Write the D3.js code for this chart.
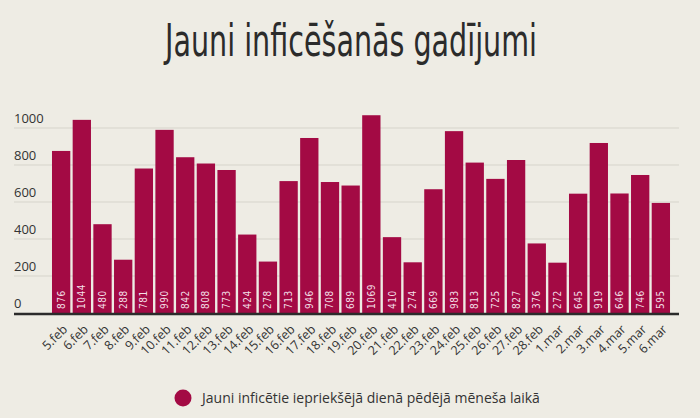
<!DOCTYPE html>
<html lang="lv">
<head>
  <meta charset="utf-8">
  <title>Jauni inficēšanās gadījumi</title>
  <script src="https://d3js.org/d3.v7.min.js"></script>
  <style>
    html, body { margin: 0; padding: 0; background: #eeece4; }
    svg { display: block; }
  </style>
</head>
<body>

<svg width="700" height="418"></svg>

<script>
  const days = ["5.feb", "6.feb", "7.feb", "8.feb", "9.feb", "10.feb", "11.feb", "12.feb", "13.feb", "14.feb",
    "15.feb", "16.feb", "17.feb", "18.feb", "19.feb", "20.feb", "21.feb", "22.feb", "23.feb", "24.feb",
    "25.feb", "26.feb", "27.feb", "28.feb", "1.mar", "2.mar", "3.mar", "4.mar", "5.mar", "6.mar"];
  const cases = [876, 1044, 480, 288, 781, 990, 842, 808, 773, 424,
    278, 713, 946, 708, 689, 1069, 410, 274, 669, 983,
    813, 725, 827, 376, 272, 645, 919, 646, 746, 595];
  const yTicks = [0, 200, 400, 600, 800, 1000];

  const title = "Jauni inficēšanās gadījumi";
  const legendLabel = "Jauni inficētie iepriekšējā dienā pēdējā mēneša laikā";

  const barColor = "#a30a44";
  const textColor = "#333333";

  const svg = d3.select("svg");

  // Scales
  const x = d3.scaleBand()
    .domain(days)
    .range([50.8, 671.2])
    .paddingInner(0.115)
    .paddingOuter(0.0575);

  const y = d3.scaleLinear()
    .domain([0, 1000])
    .range([313, 128]);

  const left = 14, right = 679;

  // Title (condensed, squeezed to the reference width)
  svg.append("text")
    .attr("x", 165)
    .attr("y", 56)
    .attr("textLength", 372)
    .attr("lengthAdjust", "spacingAndGlyphs")
    .attr("font-family", "DejaVu Sans Condensed, sans-serif")
    .attr("font-size", 44)
    .attr("fill", "#2b2b2b")
    .text(title);

  // Grid + y labels
  const grid = svg.append("g");
  grid.selectAll("line")
    .data(yTicks.filter(d => d > 0))
    .join("line")
    .attr("x1", left).attr("x2", right)
    .attr("y1", d => y(d)).attr("y2", d => y(d))
    .attr("stroke", "#d6d4cb")
    .attr("stroke-width", 1);

  grid.selectAll("text")
    .data(yTicks)
    .join("text")
    .attr("x", left)
    .attr("y", d => y(d) - 5)
    .attr("font-family", "Open Sans, sans-serif")
    .attr("font-size", 13)
    .attr("fill", textColor)
    .text(d => d);

  // Bars
  svg.append("g")
    .selectAll("rect")
    .data(cases)
    .join("rect")
    .attr("x", (d, i) => x(days[i]))
    .attr("y", d => y(d))
    .attr("width", x.bandwidth())
    .attr("height", d => y(0) - y(d))
    .attr("fill", barColor);

  // Value labels inside bars
  svg.append("g")
    .selectAll("text")
    .data(cases)
    .join("text")
    .attr("transform", (d, i) => `translate(${x(days[i]) + x.bandwidth() / 2 + 3.5}, ${y(0) - 4}) rotate(-90)`)
    .attr("font-family", "DejaVu Sans Condensed, sans-serif")
    .attr("font-size", 10)
    .attr("letter-spacing", 0.5)
    .attr("fill", "#f3dfe6")
    .text(d => d);

  // Baseline
  svg.append("line")
    .attr("x1", left).attr("x2", right)
    .attr("y1", y(0) + 1).attr("y2", y(0) + 1)
    .attr("stroke", "#2b2b2b")
    .attr("stroke-width", 2.5);

  // X axis labels
  const xAxis = d3.axisBottom(x).tickSize(0).tickPadding(0);
  const xg = svg.append("g")
    .attr("transform", `translate(0, ${y(0) + 10})`)
    .call(xAxis);
  xg.select(".domain").remove();
  xg.selectAll("text")
    .attr("font-family", "Open Sans, sans-serif")
    .attr("font-size", 12.5)
    .attr("fill", textColor)
    .attr("text-anchor", "end")
    .attr("dy", "0.8em")
    .attr("transform", "translate(0, 0) rotate(-45)");

  // Legend
  const legend = svg.append("g").attr("transform", "translate(183, 398)");
  legend.append("circle").attr("r", 8.5).attr("fill", barColor);
  legend.append("text")
    .attr("x", 19)
    .attr("y", 5)
    .attr("font-family", "Open Sans, sans-serif")
    .attr("font-size", 14)
    .attr("fill", textColor)
    .text(legendLabel);
</script>
</body>
</html>
